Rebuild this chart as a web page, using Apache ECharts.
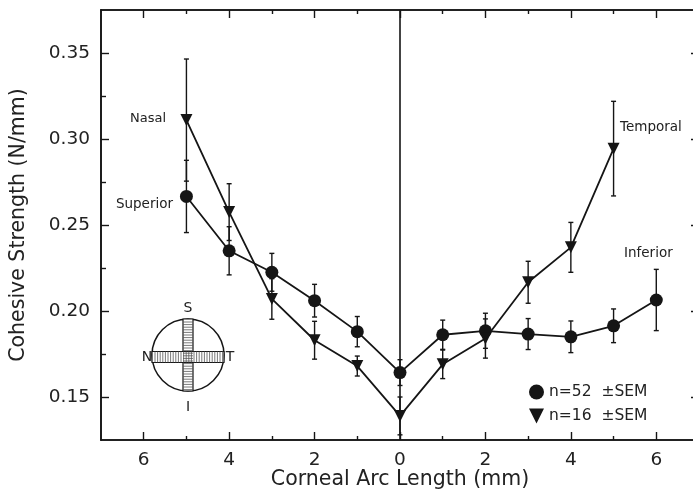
<!DOCTYPE html>
<html>
<head>
<meta charset="utf-8">
<script src="https://cdn.jsdelivr.net/npm/echarts@6/dist/echarts.min.js"></script>
<style>html,body{margin:0;padding:0;background:#fff;}#c{width:693px;height:497px;}</style>
</head>
<body>
<div id="c"></div>
<script>
// Arc length: negative = nasal/superior side (left), positive = temporal/inferior side (right)
var arcX = [-5, -4, -3, -2, -1, 0, 1, 2, 3, 4, 5, 6];
var circleY   = [0.2666, 0.235, 0.2225, 0.206, 0.188, 0.1642, 0.1862, 0.1885, 0.1866, 0.185, 0.1914, 0.2064];
var circleErr = [0.021, 0.014, 0.011, 0.0095, 0.0088, 0.0075, 0.0085, 0.0102, 0.009, 0.0092, 0.0098, 0.0178];
var triX = [-5, -4, -3, -2, -1, 0, 1, 2, 3, 4, 5];
var triY   = [0.311, 0.2575, 0.207, 0.183, 0.168, 0.139, 0.169, 0.184, 0.2167, 0.237, 0.2944];
var triErr = [0.0355, 0.0165, 0.0118, 0.011, 0.0058, 0.011, 0.0083, 0.0114, 0.0122, 0.0145, 0.0275];
var xMajor = [-6, -4, -2, 0, 2, 4, 6];
var xMinor = [-5, -3, -1, 1, 3, 5];
var yMajor = [0.15, 0.20, 0.25, 0.30, 0.35];
var yMinor = [0.175, 0.225, 0.275, 0.325];
var seriesNames = ['n=52  \u00b1SEM', 'n=16  \u00b1SEM'];

var FONT = 'DejaVu Sans';
var INK = '#151515';

function pairs(xs, ys) { return xs.map(function (x, i) { return [x, ys[i]]; }); }
function errData(xs, ys, es) { return xs.map(function (x, i) { return [x, ys[i] - es[i], ys[i] + es[i]]; }); }

function errRender(params, api) {
  var lo = api.coord([api.value(0), api.value(1)]);
  var hi = api.coord([api.value(0), api.value(2)]);
  var w = 2.5;
  var st = { stroke: INK, lineWidth: 1.4 };
  return {
    type: 'group',
    children: [
      { type: 'line', shape: { x1: lo[0], y1: lo[1], x2: hi[0], y2: hi[1] }, style: st },
      { type: 'line', shape: { x1: lo[0] - w, y1: lo[1], x2: lo[0] + w, y2: lo[1] }, style: st },
      { type: 'line', shape: { x1: hi[0] - w, y1: hi[1], x2: hi[0] + w, y2: hi[1] }, style: st }
    ]
  };
}

function xAxisBase(pos, ticks, len, showLabel) {
  return {
    type: 'value', position: pos, min: -7, max: 7,
    axisLine: { show: true, onZero: false, lineStyle: { color: INK, width: 1.6 } },
    axisTick: { show: true, inside: true, length: len, customValues: ticks, lineStyle: { color: INK, width: 1.4 } },
    axisLabel: { show: showLabel, customValues: ticks, margin: 11, fontFamily: FONT, fontSize: 18.5, color: '#222',
      formatter: function (v) { return String(Math.abs(Math.round(v))); } },
    splitLine: { show: false }
  };
}
function yAxisBase(pos, ticks, len, showLabel) {
  return {
    type: 'value', position: pos, min: 0.125, max: 0.375,
    axisLine: { show: true, onZero: false, lineStyle: { color: INK, width: 1.6 } },
    axisTick: { show: true, inside: true, length: len, customValues: ticks, lineStyle: { color: INK, width: 1.4 } },
    axisLabel: { show: showLabel, customValues: ticks, margin: 11, fontFamily: FONT, fontSize: 18.5, color: '#222',
      formatter: function (v) { return v.toFixed(2); } },
    splitLine: { show: false }
  };
}

var xb = xAxisBase('bottom', xMajor, 8, true);
xb.name = 'Corneal Arc Length (mm)';
xb.nameLocation = 'middle';
xb.nameGap = 29;
xb.nameMoveOverlap = false;
xb.nameTextStyle = { fontFamily: FONT, fontSize: 20.5, color: '#222' };
var yl = yAxisBase('left', yMajor, 8, true);
yl.name = 'Cohesive Strength (N/mm)';
yl.nameLocation = 'middle';
yl.nameGap = 72;
yl.nameTextStyle = { fontFamily: FONT, fontSize: 20.5, color: '#222' };

var xAxes = [
  xb,
  xAxisBase('bottom', xMinor, 4, false),
  xAxisBase('top', xMajor, 8, false),
  xAxisBase('top', xMinor, 4, false)
];
var yAxes = [
  yl,
  yAxisBase('left', yMinor, 5, false),
  yAxisBase('right', yMajor, 8, false),
  yAxisBase('right', yMinor, 5, false)
];

// Inset diagram (decoration)
var cx = 188, cy = 355, r = 36;
var inset = [];
inset.push({ type: 'circle', shape: { cx: cx, cy: cy, r: r }, style: { fill: '#fff', stroke: INK, lineWidth: 1.5 }, z: 10 });
inset.push({ type: 'rect', shape: { x: cx - 5, y: cy - r, width: 10, height: 2 * r }, style: { fill: '#fff', stroke: INK, lineWidth: 1.2 }, z: 11 });
inset.push({ type: 'rect', shape: { x: cx - r, y: cy + 2 - 5.5, width: 2 * r, height: 11 }, style: { fill: '#fff', stroke: INK, lineWidth: 1.2 }, z: 11 });
for (var yy = cy - r + 3; yy < cy + r - 1; yy += 2.6) {
  inset.push({ type: 'line', shape: { x1: cx - 5, y1: yy, x2: cx + 5, y2: yy }, style: { stroke: '#555', lineWidth: 0.8 }, z: 12 });
}
for (var xx = cx - r + 3; xx < cx + r - 1; xx += 2.6) {
  inset.push({ type: 'line', shape: { x1: xx, y1: cy + 2 - 5.5, x2: xx, y2: cy + 2 + 5.5 }, style: { stroke: '#555', lineWidth: 0.8 }, z: 12 });
}
function txt(x, y, s, size, align) {
  return { type: 'text', x: x, y: y, z: 13,
    style: { text: s, fontFamily: FONT, fontSize: size, fill: '#222', align: align || 'center', verticalAlign: 'middle' } };
}
inset.push(txt(cx, 308, 'S', 14));
inset.push(txt(cx - r - 5, cy + 2, 'N', 14));
inset.push(txt(cx + r + 6, cy + 2, 'T', 14));
inset.push(txt(cx, 407, 'I', 14));

var labels = [
  txt(166, 119, 'Nasal', 13, 'right'),
  txt(173, 204, 'Superior', 13.5, 'right'),
  txt(620, 127, 'Temporal', 13.5, 'left'),
  txt(624, 253, 'Inferior', 13.5, 'left')
];

var chart = echarts.init(document.getElementById('c'), null, { renderer: 'canvas' });
chart.setOption({
  animation: false,
  backgroundColor: '#fff',
  grid: { left: 101, top: 10, width: 598, height: 430, containLabel: false, outerBoundsMode: 'none' },
  xAxis: xAxes,
  yAxis: yAxes,
  legend: {
    orient: 'vertical', left: 524, top: 379, itemGap: 8, itemWidth: 15, itemHeight: 15,
    textStyle: { fontFamily: FONT, fontSize: 15.5, color: '#222' },
    data: [
      { name: seriesNames[0], icon: 'circle' },
      { name: seriesNames[1], icon: 'path://M0,0 L10,0 L5,10 Z' }
    ]
  },
  graphic: inset.concat(labels),
  series: [
    {
      name: seriesNames[0], type: 'line', data: pairs(arcX, circleY),
      symbol: 'circle', symbolSize: 13,
      lineStyle: { color: INK, width: 1.8 }, itemStyle: { color: INK },
      z: 5,
      markLine: {
        silent: true, symbol: ['none', 'none'], label: { show: false },
        lineStyle: { color: INK, width: 1.6, type: 'solid' },
        data: [{ xAxis: 0 }]
      }
    },
    {
      name: seriesNames[1], type: 'line', data: pairs(triX, triY),
      symbol: 'triangle', symbolRotate: 180, symbolSize: 12,
      lineStyle: { color: INK, width: 1.8 }, itemStyle: { color: INK },
      z: 5
    },
    {
      name: 'err52', type: 'custom', renderItem: errRender, data: errData(arcX, circleY, circleErr),
      encode: { x: 0, y: [1, 2] }, z: 4, silent: true
    },
    {
      name: 'err16', type: 'custom', renderItem: errRender, data: errData(triX, triY, triErr),
      encode: { x: 0, y: [1, 2] }, z: 4, silent: true
    }
  ]
});
</script>
</body>
</html>
